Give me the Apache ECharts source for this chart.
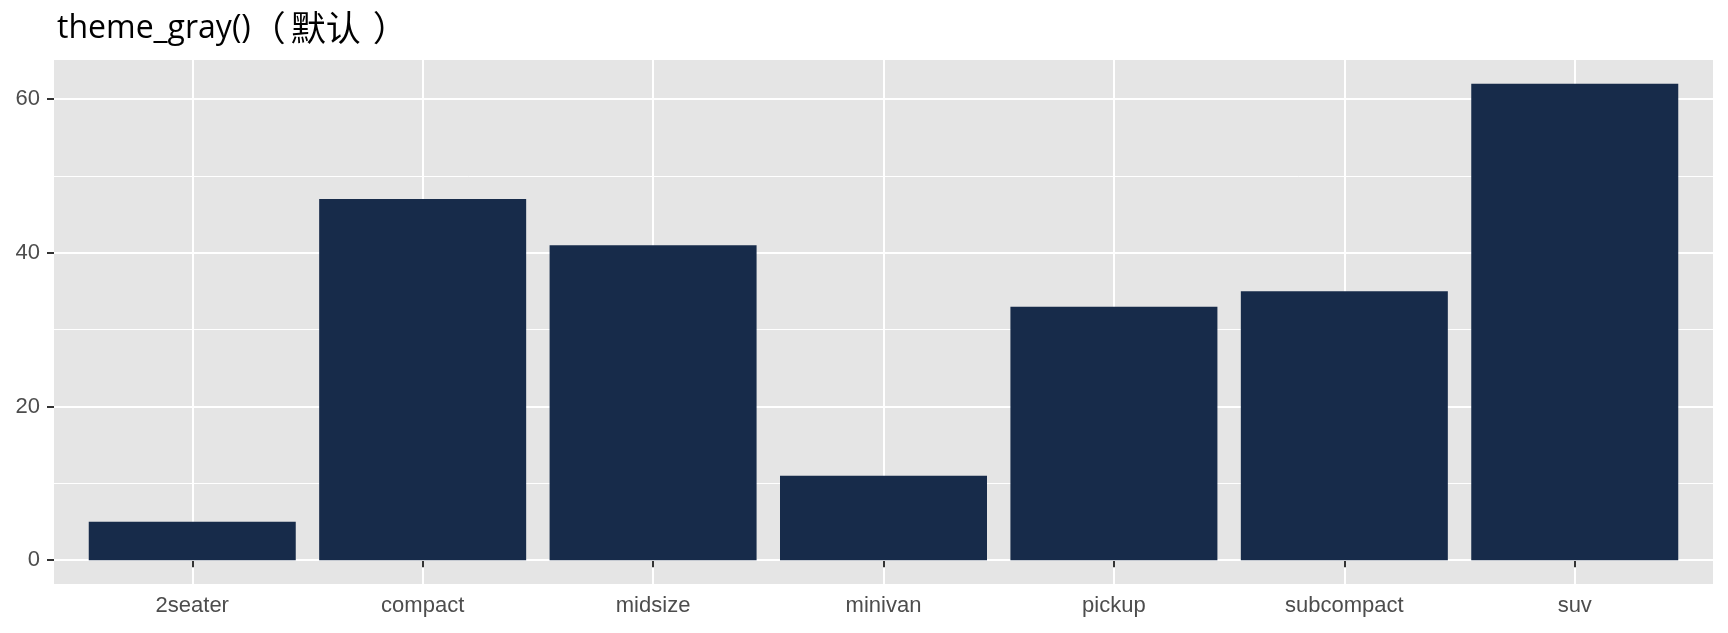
<!DOCTYPE html>
<html>
<head>
<meta charset="utf-8">
<script src="https://cdn.jsdelivr.net/npm/echarts@6/dist/echarts.min.js"></script>
<style>
html,body{margin:0;padding:0;background:#fff;}
#chart{width:1728px;height:633px;}
</style>
</head>
<body>
<div id="chart"></div>
<script>
const titleLatin = 'theme_gray()';
const titleOpen = '（';
const titleCJK = '默认';
const titleClose = '）';
const categories = ['2seater', 'compact', 'midsize', 'minivan', 'pickup', 'subcompact', 'suv'];
const counts = [5, 47, 41, 11, 33, 35, 62];
const yMajorTicks = [0, 20, 40, 60];
const yMinorTicks = [10, 30, 50];

const positions = categories.map((c, i) => i + 1);
const barData = counts.map((v, i) => [positions[i], v]);

const chart = echarts.init(document.getElementById('chart'), null, {renderer: 'canvas'});
const labelFont = 'Liberation Sans, Arial, sans-serif';
const cjkFont = '"Noto Sans CJK SC", sans-serif';
chart.setOption({
  animation: false,
  title: {
    text: '{a|' + titleLatin + '}{p|' + titleOpen + '}{c|' + titleCJK + '}{q|' + titleClose + '}',
    left: 52,
    top: -4,
    textStyle: {
      fontFamily: '"Open Sans", sans-serif', fontSize: 32, fontWeight: 'normal', color: '#000',
      rich: {
        a: {fontFamily: '"Open Sans", sans-serif', fontSize: 32, color: '#000', lineHeight: 44, verticalAlign: 'bottom'},
        p: {fontFamily: cjkFont, fontSize: 35, color: '#000', lineHeight: 44, verticalAlign: 'bottom', padding: [0, 5, 0, 0]},
        c: {fontFamily: cjkFont, fontSize: 35, color: '#000', lineHeight: 44, verticalAlign: 'bottom'},
        q: {fontFamily: cjkFont, fontSize: 35, color: '#000', lineHeight: 44, verticalAlign: 'bottom', padding: [0, 0, 0, 12]}
      }
    }
  },
  grid: {left: 54, right: 15, top: 60, bottom: 49, show: true, backgroundColor: '#E5E5E5', borderWidth: 0},
  xAxis: {
    type: 'value',
    min: 0.4,
    max: 7.6,
    axisLine: {show: false},
    axisTick: {show: true, length: 7, customValues: positions, lineStyle: {color: '#333333', width: 2}},
    axisLabel: {
      customValues: positions,
      margin: 11,
      fontSize: 22,
      fontFamily: labelFont,
      color: '#4D4D4D',
      formatter: v => categories[Math.round(v) - 1] || ''
    },
    splitLine: {show: true, lineStyle: {color: '#FFFFFF', width: 2}}
  },
  yAxis: [{
    type: 'value',
    min: -3.1,
    max: 65.1,
    axisLine: {show: false},
    axisTick: {show: true, length: 7, customValues: yMajorTicks, lineStyle: {color: '#333333', width: 2}},
    axisLabel: {customValues: yMajorTicks, margin: 14, fontSize: 22, fontFamily: labelFont, color: '#4D4D4D'},
    splitLine: {show: true, lineStyle: {color: '#FFFFFF', width: 2}},
    z: 1
  }, {
    type: 'value',
    min: -3.1,
    max: 65.1,
    position: 'left',
    axisLine: {show: false},
    axisTick: {show: false, customValues: yMinorTicks},
    axisLabel: {show: false, customValues: yMinorTicks},
    splitLine: {show: true, lineStyle: {color: '#FFFFFF', width: 1}},
    z: 0
  }],
  series: [{
    type: 'bar',
    data: barData,
    barWidth: 207,
    itemStyle: {color: '#172B4A'},
    z: 5
  }]
});
</script>
</body>
</html>
